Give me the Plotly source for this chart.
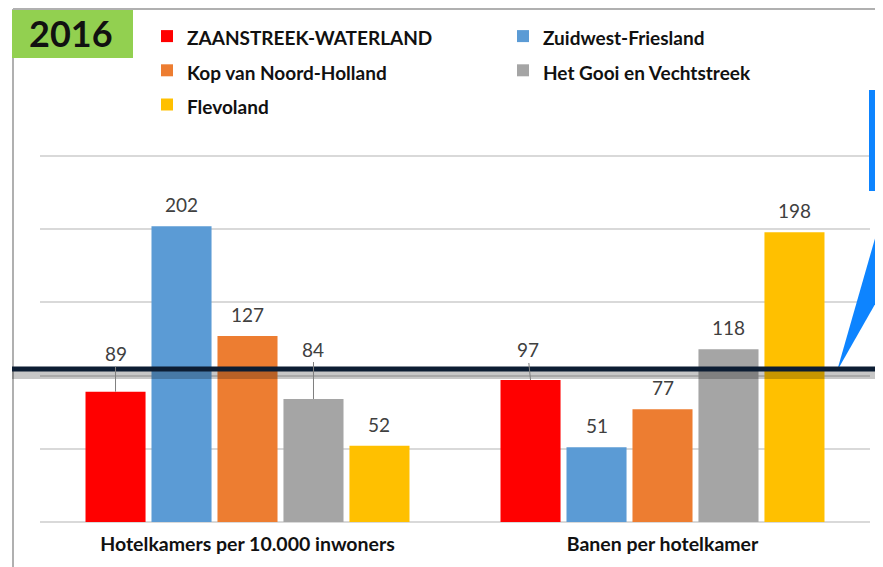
import plotly.graph_objects as go

categories = ["Hotelkamers per 10.000 inwoners", "Banen per hotelkamer"]
regions = ["ZAANSTREEK-WATERLAND", "Zuidwest-Friesland", "Kop van Noord-Holland",
           "Het Gooi en Vechtstreek", "Flevoland"]
colors = ["#ff0000", "#5b9bd5", "#ed7d31", "#a5a5a5", "#ffc000"]
zaanstreek = [89, 97]
zuidwest = [202, 51]
kop = [127, 77]
gooi = [84, 118]
flevoland = [52, 198]
series = [zaanstreek, zuidwest, kop, gooi, flevoland]
grid_values = [0, 50, 100, 150, 200, 250]
year_label = "2016"
callout_text = "I<br>g"
# labels moved above the reference line, drawn with a leader line (pixel lift)
leader = {(0, 0): (0, -38), (3, 0): (0, -50), (0, 1): (-3, -30)}

# the page body adds an 8px margin; the figure is sized so it fills the 883x567 window
OFF = 8
W, H = 883 - OFF, 567 - OFF
# picture-space plot area: x 40..870, y 10..522 (value 250 at y=156)
TOP = 10
L, R, T, B = 40 - OFF, W - (870 - OFF), TOP - OFF, H - (522 - OFF)
PW, PH = W - L - R, H - T - B
YMAX = 250 * (522 - TOP) / (522 - 156)


def px(x):
    return (x - OFF - L) / PW


def py(y):
    return (H - B - (y - OFF)) / PH


FONT = "Lato, 'Open Sans', sans-serif"
fig = go.Figure()
for name, vals, col in zip(regions, series, colors):
    fig.add_trace(go.Bar(
        x=categories, y=vals, marker=dict(color=col, line=dict(width=0)),
        name=f"<span style='font-size:19px'><b>{name}</b></span>",
        hoverinfo="y"))

bargap, groupgap = 0.205, 0.09
slot = (1 - bargap) / len(regions)
lab_font = dict(size=19, color="#404040", family=FONT)
for i, vals in enumerate(series):
    for c, v in enumerate(vals):
        xv = c + (i - (len(regions) - 1) / 2) * slot
        if (i, c) in leader:
            ax, ay = leader[(i, c)]
            fig.add_annotation(x=xv, y=v, text=str(v), showarrow=True, arrowhead=0,
                               arrowwidth=1, arrowcolor="#7f7f7f", ax=ax, ay=ay,
                               font=lab_font)
        else:
            fig.add_annotation(x=xv, y=v, text=str(v), showarrow=False, yanchor="bottom",
                               yshift=8, font=lab_font)

shapes = [
    # frame lines
    dict(type="line", xref="paper", yref="paper", x0=px(13), x1=px(895), y0=py(9), y1=py(9),
         line=dict(color="#b0b0b0", width=2)),
    dict(type="line", xref="paper", yref="paper", x0=px(13), x1=px(13), y0=py(9), y1=py(580),
         line=dict(color="#b0b0b0", width=2)),
    # year box
    dict(type="rect", xref="paper", yref="paper", x0=px(12), x1=px(133), y0=py(10), y1=py(58),
         fillcolor="#92d050", line=dict(width=0)),
    # callout box
    dict(type="rect", xref="paper", yref="paper", x0=px(869), x1=px(900), y0=py(90), y1=py(191),
         fillcolor="#0d84ff", line=dict(width=0)),
    # callout pointer
    dict(type="path", xref="paper", yref="paper",
         path=f"M {px(837)} {py(371)} L {px(886)} {py(200)} L {px(886)} {py(285)} Z",
         fillcolor="#0d84ff", line=dict(width=0)),
    # reference line shadow + line
    dict(type="line", xref="paper", yref="paper", x0=px(12), x1=px(895), y0=py(375), y1=py(375),
         line=dict(color="rgba(0,0,0,0.22)", width=8)),
    dict(type="line", xref="paper", yref="paper", x0=px(12), x1=px(895), y0=py(369), y1=py(369),
         line=dict(color="#0c1d33", width=5)),
]
fig.update_layout(shapes=shapes)

fig.add_annotation(xref="paper", yref="paper", x=px(71), y=py(33), text=f"<b>{year_label}</b>",
                   showarrow=False, xanchor="center", yanchor="middle",
                   font=dict(size=36, color="#111111", family=FONT))
fig.add_annotation(xref="paper", yref="paper", x=px(876), y=py(126), text=f"<b>{callout_text}</b>",
                   showarrow=False, xanchor="left", yanchor="middle", align="left",
                   font=dict(size=19, color="white", family=FONT))

fig.update_layout(
    width=W, height=H,
    margin=dict(l=L, r=R, t=T, b=B),
    paper_bgcolor="white", plot_bgcolor="white",
    barmode="group", bargap=bargap, bargroupgap=groupgap,
    showlegend=True,
    legend=dict(orientation="h", x=px(147), y=py(14), xanchor="left", yanchor="top",
                entrywidth=311, entrywidthmode="pixels",
                font=dict(size=24, color="#111111", family=FONT),
                bgcolor="rgba(0,0,0,0)", traceorder="normal"),
    font=dict(family=FONT),
    xaxis=dict(showgrid=False, showline=False, ticks="", ticklabelstandoff=8,
               tickfont=dict(size=19.5, color="#111111", family=FONT),
               tickvals=categories, ticktext=[f"<b>{c}</b>" for c in categories]),
    yaxis=dict(range=[0, YMAX], tickvals=grid_values, showticklabels=False, showgrid=True,
               gridcolor="#d9d9d9", gridwidth=1.5, zeroline=True, zerolinecolor="#d9d9d9",
               zerolinewidth=1.5, showline=False),
)

fig.write_html("out.html")
